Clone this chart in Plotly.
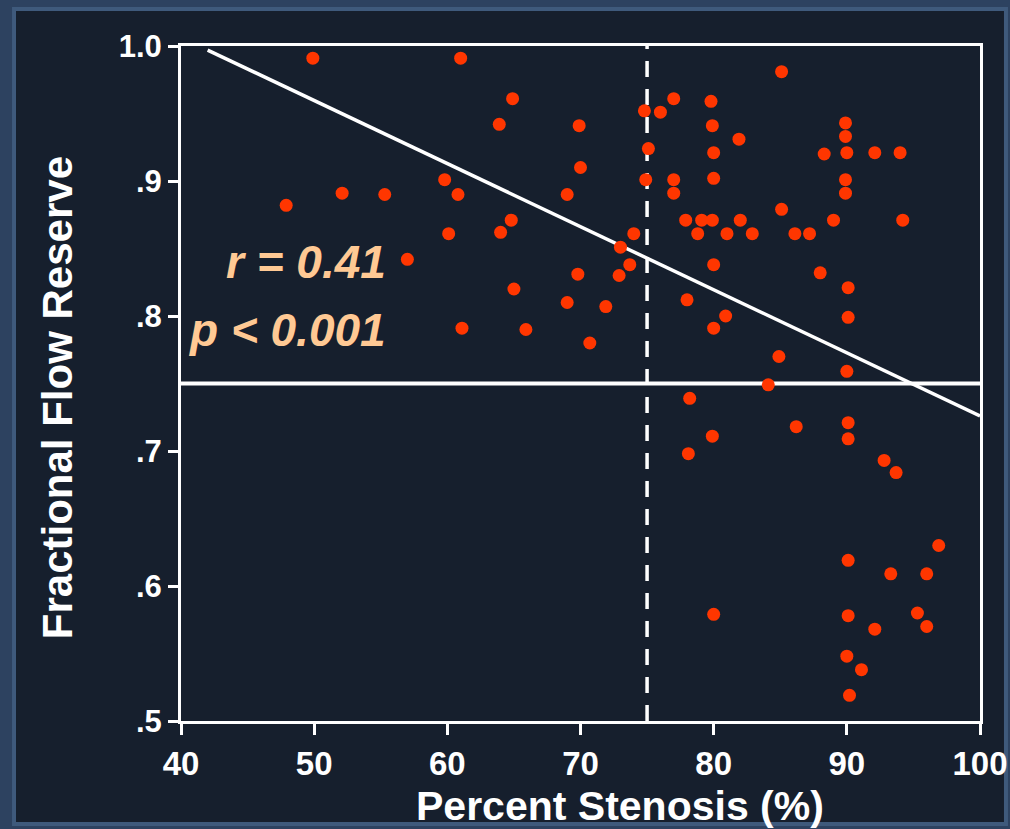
import plotly.graph_objects as go

# ---- data ----
stenosis = [49.9, 61.0, 59.8, 60.8, 52.1, 55.3, 47.9, 60.1, 57.0, 64.9,
            63.9, 69.9, 70.0, 69.0, 64.8, 64.0, 74.0, 73.0, 73.7, 72.9,
            69.8, 65.0, 77.0, 74.8, 76.0, 79.8, 79.9, 81.9, 80.0, 75.1,
            74.9, 77.0, 77.0, 80.0, 77.9, 79.1, 79.9, 82.0, 78.8, 81.0,
            82.9, 80.0, 85.1, 89.9, 89.9, 88.3, 90.0, 92.1, 94.0, 89.9,
            89.9, 85.1, 89.0, 94.2, 86.1, 87.2, 88.0, 90.1, 61.1, 69.0,
            71.9, 65.9, 70.7, 78.0, 80.9, 80.0, 90.1, 84.9, 90.0, 84.1,
            78.2, 86.2, 90.1, 90.1, 79.9, 78.1, 92.8, 93.7, 96.9, 90.1,
            93.3, 96.0, 80.0, 90.1, 95.3, 96.0, 92.1, 90.0, 91.1, 90.2]
ffr = [0.991, 0.991, 0.901, 0.890, 0.891, 0.890, 0.882, 0.861, 0.842, 0.961,
       0.942, 0.941, 0.910, 0.890, 0.871, 0.862, 0.861, 0.851, 0.838, 0.830,
       0.831, 0.820, 0.961, 0.952, 0.951, 0.959, 0.941, 0.931, 0.921, 0.924,
       0.901, 0.901, 0.891, 0.902, 0.871, 0.871, 0.871, 0.871, 0.861, 0.861,
       0.861, 0.838, 0.981, 0.943, 0.933, 0.920, 0.921, 0.921, 0.921, 0.901,
       0.891, 0.879, 0.871, 0.871, 0.861, 0.861, 0.832, 0.821, 0.791, 0.810,
       0.807, 0.790, 0.780, 0.812, 0.800, 0.791, 0.799, 0.770, 0.759, 0.749,
       0.739, 0.718, 0.721, 0.709, 0.711, 0.698, 0.693, 0.684, 0.630, 0.619,
       0.609, 0.609, 0.579, 0.578, 0.580, 0.570, 0.568, 0.548, 0.538, 0.519]

fit_x = [42.0, 100.0]
fit_y = [0.997, 0.726]
cutoff_ffr = 0.75
cutoff_stenosis = 75

x_ticks = [40, 50, 60, 70, 80, 90, 100]
y_ticks = [0.5, 0.6, 0.7, 0.8, 0.9, 1.0]
y_tick_text = [".5", ".6", ".7", ".8", ".9", "1.0"]

FONT = "Liberation Sans, Arial, Helvetica, sans-serif"
NAVY = "#161f2d"
WHITE = "#ffffff"

fig = go.Figure()

# threshold lines
fig.add_trace(go.Scatter(x=[40, 100], y=[cutoff_ffr, cutoff_ffr], mode="lines",
                         line=dict(color=WHITE, width=4), hoverinfo="skip", showlegend=False))
fig.add_trace(go.Scatter(x=[cutoff_stenosis, cutoff_stenosis], y=[0.5, 1.0], mode="lines",
                         line=dict(color=WHITE, width=3.5, dash="16px,12px"),
                         hoverinfo="skip", showlegend=False))
# regression line
fig.add_trace(go.Scatter(x=fit_x, y=fit_y, mode="lines",
                         line=dict(color=WHITE, width=3.5), hoverinfo="skip", showlegend=False))
# data points
fig.add_trace(go.Scatter(x=stenosis, y=ffr, mode="markers",
                         marker=dict(color="#ff3600", size=13, line=dict(width=0)),
                         showlegend=False))

# panel background with lighter frame
fig.add_shape(type="rect", xref="paper", yref="paper",
              x0=-0.209, x1=1.0325, y0=-0.1526, y1=1.0548,
              fillcolor=NAVY, line=dict(color="#3f5a7c", width=4), layer="below")

fig.update_layout(
    width=1010, height=829,
    margin=dict(l=181, r=30, t=46, b=108, autoexpand=False),
    paper_bgcolor="#2d4260",
    plot_bgcolor=NAVY,
    font=dict(family=FONT, color=WHITE),
    showlegend=False,
    annotations=[
        dict(text="<b><i>r = 0.41</i></b>", x=55.55, y=0.840, xref="x", yref="y",
             xanchor="right", yanchor="middle", showarrow=False,
             font=dict(family=FONT, size=46, color="#ffc994")),
        dict(text="<b><i>p < 0.001</i></b>", x=55.55, y=0.7896, xref="x", yref="y",
             xanchor="right", yanchor="middle", showarrow=False,
             font=dict(family=FONT, size=46, color="#ffc994")),
        dict(text="<b>Fractional Flow Reserve</b>", x=-0.155, y=0.4785,
             xref="paper", yref="paper", textangle=-90, showarrow=False,
             xanchor="center", yanchor="middle",
             font=dict(family=FONT, size=42, color=WHITE)),
        dict(text="<b>Percent Stenosis (%)</b>", x=0.5494, y=-0.126,
             xref="paper", yref="paper", showarrow=False,
             xanchor="center", yanchor="middle",
             font=dict(family=FONT, size=41, color=WHITE)),
    ],
)

fig.update_xaxes(range=[40, 100], tickvals=x_ticks, ticktext=[str(v) for v in x_ticks],
                 automargin=False,
                 showgrid=False, zeroline=False, showline=True, mirror=True,
                 linecolor=WHITE, linewidth=3, ticks="outside", ticklen=11,
                 tickwidth=3, tickcolor=WHITE,
                 tickfont=dict(family=FONT, size=33, color=WHITE, weight="bold"))
fig.update_yaxes(range=[0.5, 1.0], tickvals=y_ticks, ticktext=y_tick_text,
                 automargin=False,
                 showgrid=False, zeroline=False, showline=True, mirror=True,
                 linecolor=WHITE, linewidth=3, ticks="outside", ticklen=10,
                 tickwidth=3, tickcolor=WHITE,
                 tickfont=dict(family=FONT, size=31, color=WHITE, weight="bold"))

fig.write_html("out.html",
               config={"displayModeBar": False},
               post_script="document.body.style.margin='0';document.body.style.overflow='hidden';")
